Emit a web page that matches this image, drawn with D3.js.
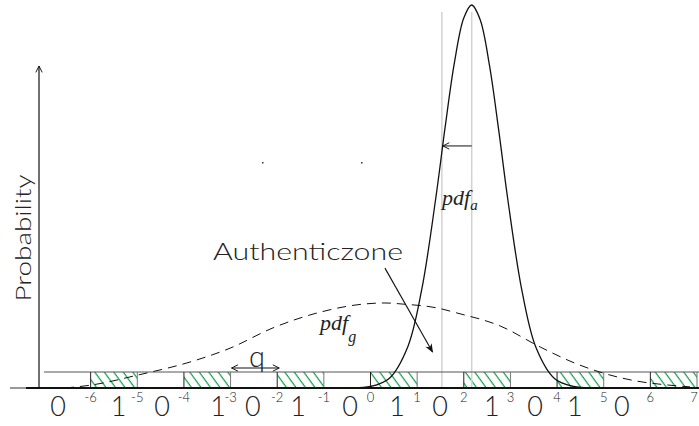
<!DOCTYPE html>
<html lang="en">
<head>
  <meta charset="UTF-8">
  <title>Authentic zone</title>
  <script src="https://d3js.org/d3.v7.min.js"></script>
  <style>
    body { margin: 0; background: #fff; }
    svg { font-family: Lato, "DejaVu Sans", sans-serif; font-weight: 300; }
    .pdf { font-family: "Liberation Serif", "DejaVu Serif", serif; font-style: italic; font-weight: 400; }
  </style>
</head>
<body>
  <svg id="chart"></svg>
  <script>
    const width = 699;
    const height = 426;

    // tick labels along the strip
    const tickValues = [-6, -5, -4, -3, -2, -1, 0, 1, 2, 3, 4, 5, 6, 7];
    // bit labels and where they sit (x units)
    const bits = [0, 1, 0, 1, 0, 1, 0, 1, 0, 1, 0, 1, 0];
    const bitPos = [-6.7, -5.4, -4.47, -3.27, -2.52, -1.55, -0.44, 0.57, 1.49, 2.6, 3.53, 4.38, 5.39];
    // hatched (authentic) cells
    const hatchStart = [-6, -4, -2, 0, 2, 4, 6];

    // pdf_a
    const pdfAx = [-0.4, 0, 0.4, 0.8, 1.1, 1.4, 1.6, 1.8, 2.0, 2.17, 2.35, 2.55, 2.75, 2.95, 3.25, 3.55, 3.95, 4.35, 4.75];
    const pdfAy = [0.0004, 0.004, 0.025, 0.108, 0.258, 0.496, 0.681, 0.85, 0.966, 1.0, 0.962, 0.843, 0.672, 0.487, 0.252, 0.105, 0.024, 0.004, 0.0004];

    // pdf_g (dashed)
    const pdfGx = [-6.55, -5.97, -4.98, -3.81, -3.01, -2.09, -1.08, -0.16, 0.31, 0.7, 1.43, 1.85, 2.78, 3.64, 4.38, 5.07, 5.71, 6.36, 6.85];
    const pdfGy = [0.0, 0.008, 0.034, 0.07, 0.104, 0.157, 0.198, 0.219, 0.222, 0.219, 0.209, 0.196, 0.162, 0.107, 0.065, 0.036, 0.018, 0.008, 0.003];

    const meanA = 2.17;
    const sigmaEdge = 1.53;
    const sigmaLevel = 0.632;

    const svg = d3.select("#chart")
      .attr("width", width)
      .attr("height", height);

    const x = d3.scaleLinear().domain([-7, 7]).range([44, 697]);
    const y = d3.scaleLinear().domain([0, 1]).range([388, 5]);

    const defs = svg.append("defs");

    // open arrow head
    defs.append("marker")
      .attr("id", "open")
      .attr("markerUnits", "userSpaceOnUse")
      .attr("viewBox", "0 0 10 10")
      .attr("refX", 9).attr("refY", 5)
      .attr("markerWidth", 8).attr("markerHeight", 8)
      .attr("orient", "auto-start-reverse")
      .append("path")
      .attr("d", "M1,1 L9,5 L1,9")
      .attr("fill", "none")
      .attr("stroke", "#111")
      .attr("stroke-width", 1.2);

    // filled arrow head
    defs.append("marker")
      .attr("id", "solid")
      .attr("markerUnits", "userSpaceOnUse")
      .attr("viewBox", "0 0 10 10")
      .attr("refX", 9).attr("refY", 5)
      .attr("markerWidth", 10).attr("markerHeight", 9)
      .attr("orient", "auto")
      .append("path")
      .attr("d", "M0,1 L10,5 L0,9 L3,5 Z")
      .attr("fill", "#111");

    // green hatching
    const pat = defs.append("pattern")
      .attr("id", "hatch")
      .attr("patternUnits", "userSpaceOnUse")
      .attr("width", 9.5).attr("height", 16)
      .attr("patternTransform", "skewX(36)");
    pat.append("line")
      .attr("x1", 5).attr("y1", -1).attr("x2", 5).attr("y2", 17)
      .attr("stroke", "#12a14a")
      .attr("stroke-width", 1.5);

    const stripTop = 372;

    // hatched cells
    svg.selectAll(".cell")
      .data(hatchStart)
      .enter().append("rect")
      .attr("class", "cell")
      .attr("x", d => x(d))
      .attr("y", stripTop)
      .attr("width", d => x(d + 1) - x(d))
      .attr("height", y(0) - stripTop)
      .attr("fill", "url(#hatch)");

    // grey guide lines at the mean and one sigma
    svg.selectAll(".guide")
      .data([sigmaEdge, meanA])
      .enter().append("line")
      .attr("class", "guide")
      .attr("x1", d => x(d)).attr("x2", d => x(d))
      .attr("y1", 12).attr("y2", y(0))
      .attr("stroke", "#d2d2d2")
      .attr("stroke-width", 1.5);

    // strip top line and cell edges
    svg.append("line")
      .attr("x1", x(-7)).attr("x2", width)
      .attr("y1", stripTop).attr("y2", stripTop)
      .attr("stroke", "#555")
      .attr("stroke-width", 1);

    svg.selectAll(".edge")
      .data(tickValues)
      .enter().append("line")
      .attr("class", "edge")
      .attr("x1", d => x(d)).attr("x2", d => x(d))
      .attr("y1", stripTop).attr("y2", y(0))
      .attr("stroke", (d, i) => (i % 2 === 0 ? "#222" : "#777"))
      .attr("stroke-width", 1);

    // curves
    const line = d3.line()
      .x(d => x(d[0]))
      .y(d => y(d[1]))
      .curve(d3.curveMonotoneX);

    svg.append("path")
      .datum(d3.zip(pdfGx, pdfGy))
      .attr("d", line)
      .attr("fill", "none")
      .attr("stroke", "#111")
      .attr("stroke-width", 1)
      .attr("stroke-dasharray", "9,6");

    svg.append("path")
      .datum(d3.zip(pdfAx, pdfAy))
      .attr("d", line.curve(d3.curveCatmullRom))
      .attr("fill", "none")
      .attr("stroke", "#111")
      .attr("stroke-width", 1.3);

    // axes
    svg.append("line")
      .attr("x1", 10).attr("x2", 26)
      .attr("y1", y(0)).attr("y2", y(0))
      .attr("stroke", "#999")
      .attr("stroke-width", 2);
    svg.append("line")
      .attr("x1", 26).attr("x2", width)
      .attr("y1", y(0)).attr("y2", y(0))
      .attr("stroke", "#111")
      .attr("stroke-width", 2);

    svg.append("line")
      .attr("x1", 39).attr("x2", 39)
      .attr("y1", y(0)).attr("y2", 66)
      .attr("stroke", "#111")
      .attr("stroke-width", 1.2)
      .attr("marker-end", "url(#open)");

    svg.append("text")
      .attr("transform", `translate(31,${238}) rotate(-90)`)
      .attr("text-anchor", "middle")
      .attr("font-size", 21)
      .attr("textLength", 127)
      .attr("lengthAdjust", "spacingAndGlyphs")
      .attr("fill", "#222")
      .text("Probability");

    // tick labels and bits
    svg.selectAll(".tick")
      .data(tickValues)
      .enter().append("text")
      .attr("class", "tick")
      .attr("x", d => Math.min(x(d), width - 5))
      .attr("y", 402)
      .attr("text-anchor", "middle")
      .attr("font-size", 13)
      .attr("fill", "#222")
      .text(d => d < 0 ? "-" + Math.abs(d) : d);

    svg.selectAll(".bit")
      .data(bits)
      .enter().append("text")
      .attr("class", "bit")
      .attr("x", (d, i) => x(bitPos[i]))
      .attr("y", 416)
      .attr("text-anchor", "middle")
      .attr("font-size", 27)
      .attr("fill", "#222")
      .text(d => d);

    // sigma arrow
    svg.append("line")
      .attr("x1", x(meanA)).attr("x2", x(sigmaEdge) + 1)
      .attr("y1", y(sigmaLevel)).attr("y2", y(sigmaLevel))
      .attr("stroke", "#111")
      .attr("stroke-width", 1)
      .attr("marker-end", "url(#open)");

    // q arrow
    svg.append("line")
      .attr("x1", x(-3) + 1).attr("x2", x(-2) + 2)
      .attr("y1", 368).attr("y2", 368)
      .attr("stroke", "#111")
      .attr("stroke-width", 1)
      .attr("marker-start", "url(#open)")
      .attr("marker-end", "url(#open)");

    svg.append("text")
      .attr("x", 257).attr("y", 367)
      .attr("text-anchor", "middle")
      .attr("font-size", 29)
      .attr("fill", "#222")
      .text("q");

    // authentic zone label and arrow
    svg.append("text")
      .attr("x", 213).attr("y", 260)
      .attr("font-size", 23)
      .attr("textLength", 190)
      .attr("lengthAdjust", "spacingAndGlyphs")
      .attr("fill", "#222")
      .text("Authenticzone");

    svg.append("line")
      .attr("x1", x(0.31)).attr("y1", y(0.313))
      .attr("x2", x(1.33)).attr("y2", y(0.094))
      .attr("stroke", "#111")
      .attr("stroke-width", 1.1)
      .attr("marker-end", "url(#solid)");

    // pdf labels
    const la = svg.append("text")
      .attr("class", "pdf")
      .attr("x", 442).attr("y", 205)
      .attr("font-size", 22)
      .attr("fill", "#222");
    la.append("tspan").text("pdf");
    la.append("tspan").attr("font-size", 15).attr("dy", 5).text("a");

    const lg = svg.append("text")
      .attr("class", "pdf")
      .attr("x", 320).attr("y", 330)
      .attr("font-size", 22)
      .attr("fill", "#222");
    lg.append("tspan").text("pdf");
    lg.append("tspan").attr("font-size", 16).attr("dy", 12).text("g");

    // stray specks from the original
    svg.selectAll(".speck")
      .data([[262, 162], [361, 162]])
      .enter().append("rect")
      .attr("class", "speck")
      .attr("x", d => d[0]).attr("y", d => d[1])
      .attr("width", 1.5).attr("height", 1.5)
      .attr("fill", "#333");
  </script>
</body>
</html>
